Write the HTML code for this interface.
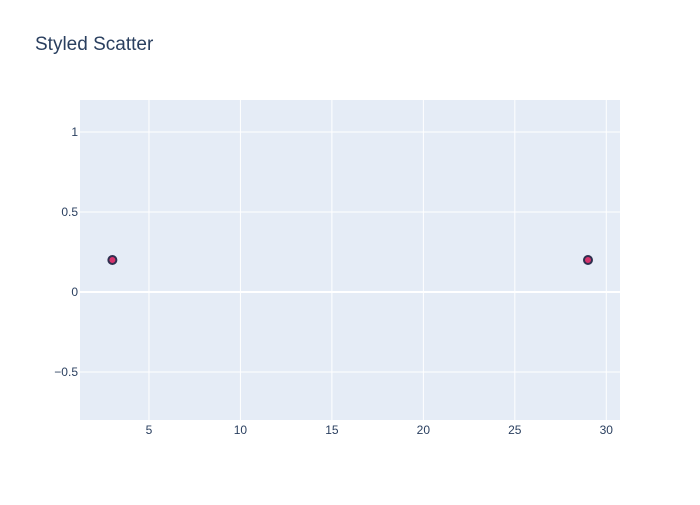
<!DOCTYPE html>
<html><head><meta charset="utf-8"><style>
body{margin:0;background:#fff;}
svg text{font-family:"Liberation Sans",sans-serif;}
</style></head><body>
<svg id="chart" width="700" height="500" xmlns="http://www.w3.org/2000/svg">
<rect width="700" height="500" fill="#fff"/>
<text x="35" y="50" font-size="19" fill="#2a3f5f">Styled Scatter</text>
<rect x="80" y="100" width="540" height="320" fill="#e5ecf6"/>
<g id="grid"></g><g id="ticks"></g><g id="marks"></g>
</svg>
<script>
const xValues = [3, 29];
const yValues = [0.2, 0.2];
const xTicks = [5, 10, 15, 20, 25, 30];
const yTicks = [1, 0.5, 0, -0.5];
const yTickLabels = ["1", "0.5", "0", "−0.5"];
const X0=80,X1=620,Y0=100,Y1=420;
const xMin=1.23,xMax=30.75,yMin=-0.8,yMax=1.2;
const sx=v=>X0+(v-xMin)/(xMax-xMin)*(X1-X0);
const sy=v=>Y1-(v-yMin)/(yMax-yMin)*(Y1-Y0);
const NS="http://www.w3.org/2000/svg";
function mk(tag,attrs,parent){const e=document.createElementNS(NS,tag);for(const k in attrs)e.setAttribute(k,attrs[k]);document.getElementById(parent).appendChild(e);return e;}
xTicks.forEach(t=>{
  const l=mk('line',{x1:sx(t),x2:sx(t),y1:Y0,y2:Y1,stroke:'#fff','stroke-width':1},'grid');
  
  
  const tx=mk('text',{x:sx(t),y:434,'font-size':12,fill:'#2a3f5f','text-anchor':'middle'},'ticks');
  tx.textContent=t;
  
  
});
yTicks.forEach((t,i)=>{
  const l=mk('line',{x1:X0,x2:X1,y1:sy(t),y2:sy(t),stroke:'#fff','stroke-width':t===0?2:1},'grid');
  
  
  const tx=mk('text',{x:78,y:sy(t)+4,'font-size':12,fill:'#2a3f5f','text-anchor':'end'},'ticks');
  tx.textContent=yTickLabels[i];
  
  
});
xValues.forEach((v,i)=>{
  const c=mk('circle',{cx:sx(v),cy:sy(yValues[i]),r:4,fill:'#d6336c',stroke:'#2f2f4f','stroke-width':2},'marks');
  
  
});
</script>
</body></html>
